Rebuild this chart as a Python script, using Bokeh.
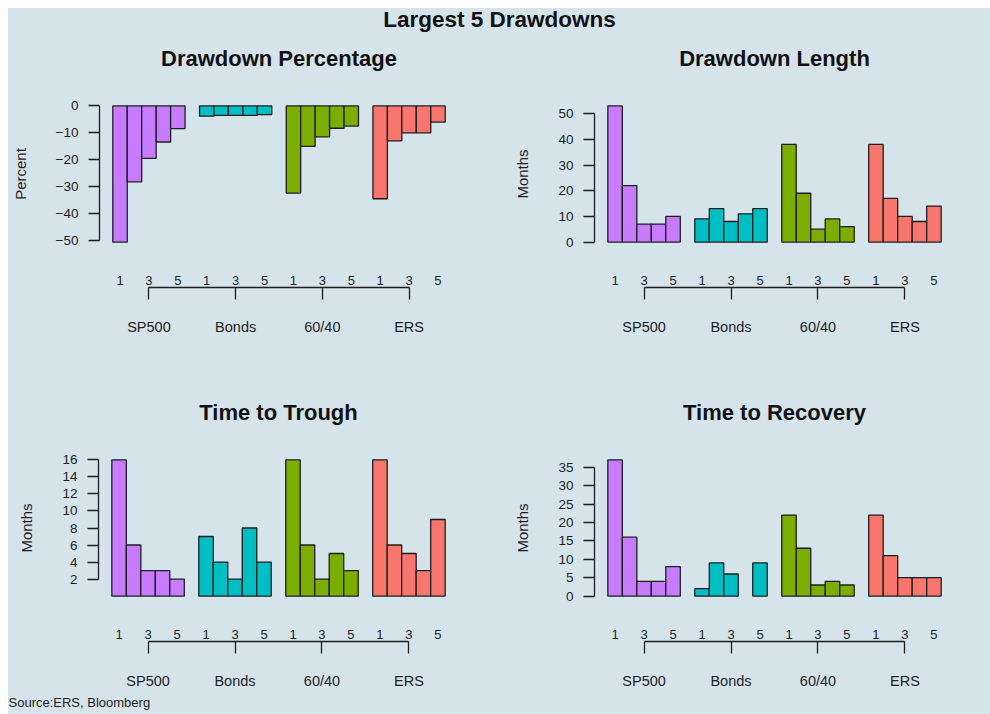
from bokeh.plotting import figure
from bokeh.layouts import column, row
from bokeh.models import LinearAxis, FixedTicker, Range1d, Title, ColumnDataSource
from bokeh.embed import file_html
from bokeh.resources import INLINE
from bokeh.core.properties import value

# ---------------- data ----------------
groups = ["SP500", "Bonds", "60/40", "ERS"]
group_colors = ["#C77CFF", "#00BFC4", "#7CAE00", "#F8766D"]
rank_labels = ["1", "2", "3", "4", "5"]

# Drawdown Percentage (percent)
pct_sp500 = [-50.6, -28.2, -19.5, -13.4, -8.4]
pct_bonds = [-3.8, -3.5, -3.5, -3.5, -3.2]
pct_6040 = [-32.4, -15.0, -11.5, -8.3, -7.5]
pct_ers = [-34.5, -13.0, -10.0, -10.0, -6.0]

# Drawdown Length (months)
len_sp500 = [53, 22, 7, 7, 10]
len_bonds = [9, 13, 8, 11, 13]
len_6040 = [38, 19, 5, 9, 6]
len_ers = [38, 17, 10, 8, 14]

# Time to Trough (months)
trough_sp500 = [16, 6, 3, 3, 2]
trough_bonds = [7, 4, 2, 8, 4]
trough_6040 = [16, 6, 2, 5, 3]
trough_ers = [16, 6, 5, 3, 9]

# Time to Recovery (months); None = not recovered / no bar
rec_sp500 = [37, 16, 4, 4, 8]
rec_bonds = [2, 9, 6, None, 9]
rec_6040 = [22, 13, 3, 4, 3]
rec_ers = [22, 11, 5, 5, 5]

yticks_pct = [-50, -40, -30, -20, -10, 0]
yticks_len = [0, 10, 20, 30, 40, 50]
yticks_trough = [2, 4, 6, 8, 10, 12, 14, 16]
yticks_rec = [0, 5, 10, 15, 20, 25, 30, 35]

# ---------------- style ----------------
BG = "#d5e3ea"
FONT = "Liberation Sans"
INK = "#1e1e1e"


def panel(title, series, yticks, ylabel, width, height, mb_left, mb_right, mb_top, mb_bottom):
    lefts, rights, tops, bottoms, colors = [], [], [], [], []
    for g, vals in enumerate(series):
        for i, v in enumerate(vals):
            if v is None:
                continue
            left = 1 + g * 6 + i
            lefts.append(left)
            rights.append(left + 1)
            tops.append(max(v, 0))
            bottoms.append(min(v, 0))
            colors.append(group_colors[g])
    vmin, vmax = min(bottoms), max(tops)
    ypad = 0.04 * (vmax - vmin)
    xlo, xhi = 1, 1 + 6 * (len(series) - 1) + 5
    xpad = 0.04 * (xhi - xlo)

    p = figure(width=width, height=height,
               x_range=Range1d(xlo - xpad, xhi + xpad),
               y_range=Range1d(vmin - ypad, vmax + ypad),
               x_axis_location=None, y_axis_location=None,
               toolbar_location=None, output_backend="svg",
               min_border_left=mb_left, min_border_right=mb_right,
               min_border_top=mb_top, min_border_bottom=mb_bottom,
               title=None)
    p.background_fill_color = BG
    p.border_fill_color = BG
    p.outline_line_color = None
    p.xgrid.visible = False
    p.ygrid.visible = False

    # spacer (nearest the frame) then the panel title
    spacer = Title(text=" ", text_font=FONT, text_font_size="21px", standoff=0)
    p.add_layout(spacer, "above")
    ttl = Title(text=title, align="center", text_font=FONT, text_font_size="22px",
                text_font_style="bold", text_color="#111111")
    p.add_layout(ttl, "above")

    src = ColumnDataSource(dict(left=lefts, right=rights, top=tops, bottom=bottoms, color=colors))
    p.quad(left="left", right="right", top="top", bottom="bottom", source=src,
           fill_color="color", line_color=INK, line_width=1.3)

    # y axis
    yax = LinearAxis(ticker=FixedTicker(ticks=yticks), bounds=(yticks[0], yticks[-1]),
                     axis_label=ylabel)
    yax.major_label_overrides = {t: str(t).replace("-", "\u2212") for t in yticks}
    yax.axis_line_color = INK
    yax.axis_line_width = 1.3
    yax.major_tick_line_color = INK
    yax.major_tick_line_width = 1.3
    yax.major_tick_in = 0
    yax.major_tick_out = 11
    yax.minor_tick_line_color = None
    yax.major_label_standoff = 10
    yax.major_label_text_font = FONT
    yax.major_label_text_font_size = "13.5px"
    yax.major_label_text_color = INK
    yax.axis_label_text_font = FONT
    yax.axis_label_text_font_size = "15px"
    yax.axis_label_text_font_style = "normal"
    yax.axis_label_text_color = INK
    yax.axis_label_standoff = 24
    p.add_layout(yax, "left")

    # rank labels 1 3 5 under each group
    rank_pos, rank_over = [], {}
    for g in range(len(series)):
        for i in (0, 2, 4):
            c = 1 + g * 6 + i + 0.5
            rank_pos.append(c)
            rank_over[c] = rank_labels[i]
    rax = LinearAxis(ticker=FixedTicker(ticks=rank_pos))
    rax.major_label_overrides = rank_over
    rax.axis_line_color = None
    rax.major_tick_line_color = None
    rax.minor_tick_line_color = None
    rax.major_tick_in = 0
    rax.major_tick_out = 0
    rax.major_label_standoff = 28
    rax.major_label_text_font = FONT
    rax.major_label_text_font_size = "13px"
    rax.major_label_text_color = INK
    p.add_layout(rax, "below")

    # group bracket axis
    gpos = [1 + g * 6 + 2.5 for g in range(len(series))]
    gax = LinearAxis(ticker=FixedTicker(ticks=gpos), bounds=(gpos[0], gpos[-1]))
    gax.major_label_overrides = {c: groups[g] for g, c in enumerate(gpos)}
    gax.axis_line_color = INK
    gax.axis_line_width = 1.3
    gax.major_tick_line_color = INK
    gax.major_tick_line_width = 1.3
    gax.major_tick_in = 0
    gax.major_tick_out = 12
    gax.minor_tick_line_color = None
    gax.major_label_standoff = 19
    gax.major_label_text_font = FONT
    gax.major_label_text_font_size = "14.5px"
    gax.major_label_text_color = INK
    p.add_layout(gax, "below")
    return p


W1, W2 = 496, 486
H0, H1, H2 = 30, 321, 355
T1, T2 = 62, 95

p1 = panel("Drawdown Percentage", [pct_sp500, pct_bonds, pct_6040, pct_ers], yticks_pct, "Percent",
           W1, H1, 90, W1 - 90 - 360, T1, H1 - T1 - 147)
p2 = panel("Drawdown Length", [len_sp500, len_bonds, len_6040, len_ers], yticks_len, "Months",
           W2, H1, 90, W2 - 90 - 360, T1, H1 - T1 - 147)
p3 = panel("Time to Trough", [trough_sp500, trough_bonds, trough_6040, trough_ers], yticks_trough, "Months",
           W1, H2, 90, W1 - 90 - 360, T2, H2 - T2 - 147)
p4 = panel("Time to Recovery", [rec_sp500, rec_bonds, rec_6040, rec_ers], yticks_rec, "Months",
           W2, H2, 90, W2 - 90 - 360, T2, H2 - T2 - 147)

src_title = Title(text="Source:ERS, Bloomberg", align="left", offset=-90,
                  text_font=FONT, text_font_size="13px", text_font_style="normal",
                  text_color=INK, standoff=2)
p3.add_layout(src_title, "below")

# overall title strip
strip = figure(width=W1 + W2, height=H0, x_range=Range1d(0, 1), y_range=Range1d(0, 1),
               x_axis_location=None, y_axis_location=None, toolbar_location=None,
               output_backend="svg", min_border=0)
strip.background_fill_color = BG
strip.border_fill_color = BG
strip.outline_line_color = None
strip.xgrid.visible = False
strip.ygrid.visible = False
strip.text(x=[0.5], y=[0.63], text=["Largest 5 Drawdowns"], text_align="center",
           text_baseline="middle", text_font_size="22.5px", text_font_style="bold",
           text_font=value(FONT), text_color="#111111")

bg_style = {"background-color": BG}
layout = column(strip,
                row(p1, p2, styles=bg_style),
                row(p3, p4, styles=bg_style),
                styles=bg_style, margin=(8, 0, 0, 8))

open("out.html", "w").write(file_html(layout, INLINE))
